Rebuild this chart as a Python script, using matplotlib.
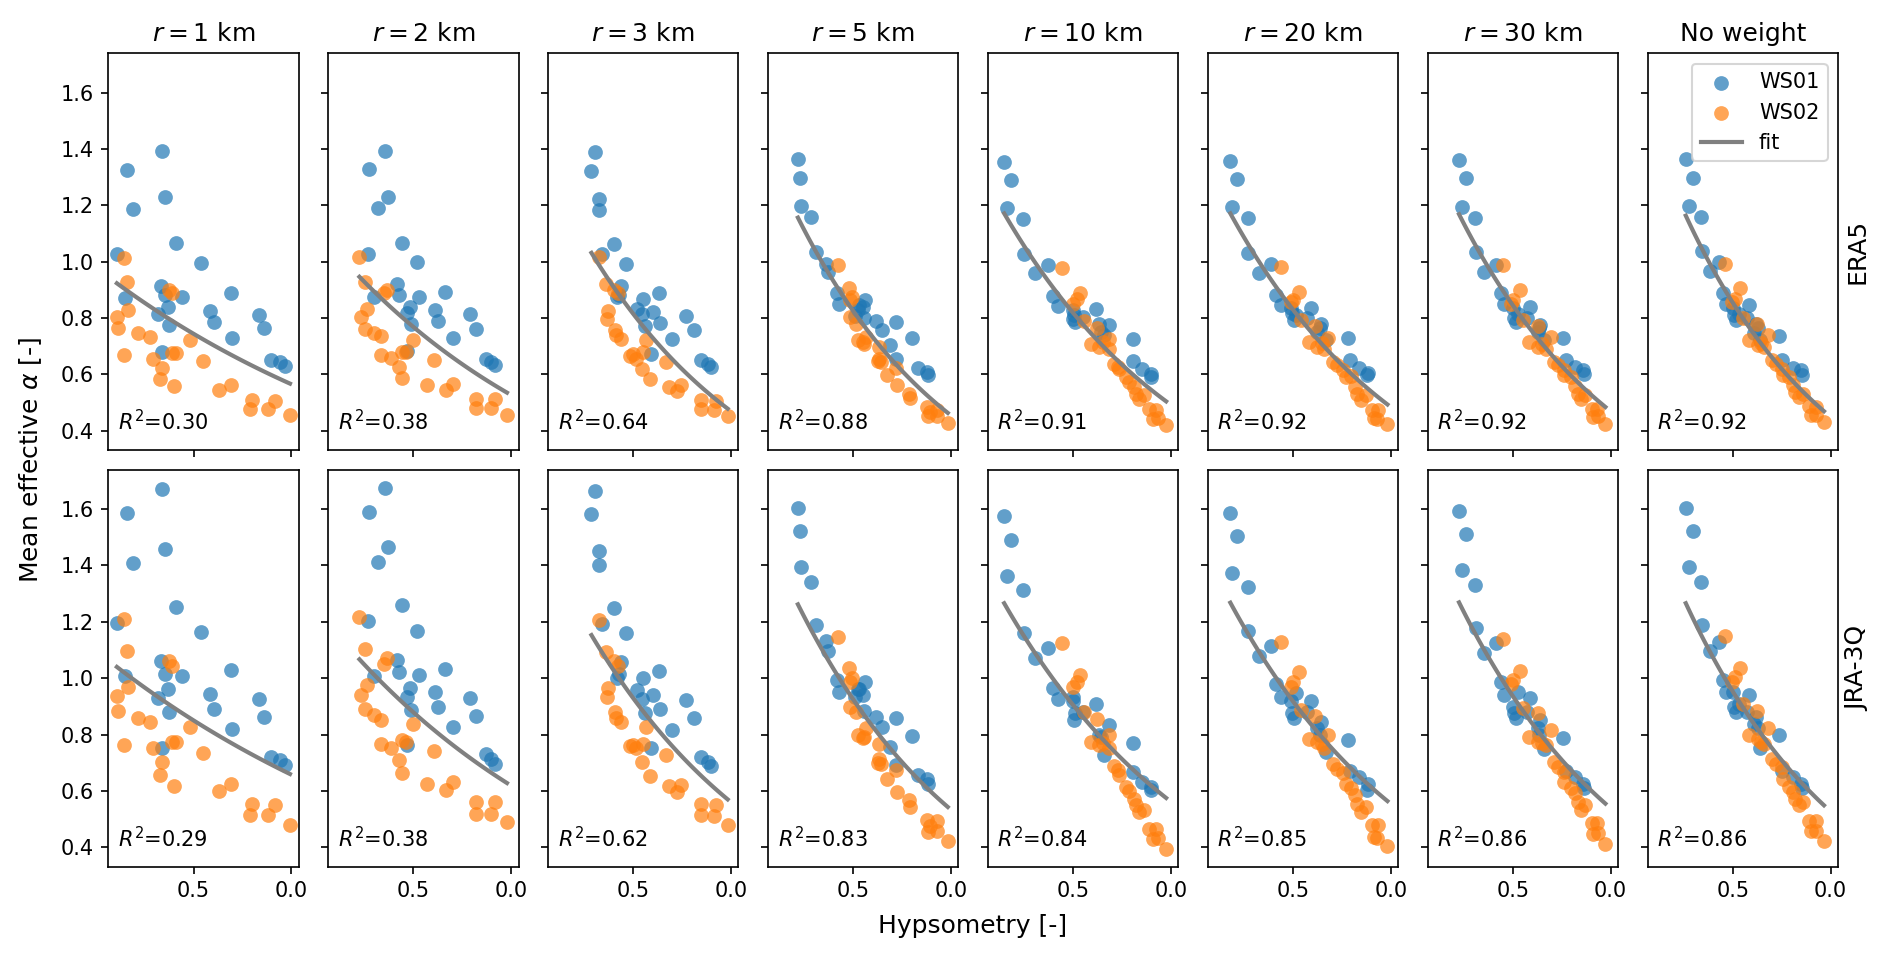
import numpy as np
import matplotlib
matplotlib.use('Agg')
import matplotlib.pyplot as plt

# panel titles and R^2 labels
titles = ['$r=1$ km', '$r=2$ km', '$r=3$ km', '$r=5$ km', '$r=10$ km',
          '$r=20$ km', '$r=30$ km', 'No weight']
r2_era5 = [0.30, 0.38, 0.64, 0.88, 0.91, 0.92, 0.92, 0.92]
r2_jra3q = [0.29, 0.38, 0.62, 0.83, 0.84, 0.85, 0.86, 0.86]
rows = ['ERA5', 'JRA-3Q']

# fitted alpha at the highest / lowest hypsometry of each panel
fit_era5_hi = [0.923, 0.946, 1.031, 1.156, 1.171, 1.171, 1.168, 1.163]
fit_era5_lo = [0.567, 0.535, 0.478, 0.463, 0.504, 0.493, 0.484, 0.469]
fit_jra3q_hi = [1.040, 1.067, 1.153, 1.262, 1.266, 1.268, 1.269, 1.266]
fit_jra3q_lo = [0.660, 0.628, 0.570, 0.543, 0.575, 0.564, 0.555, 0.549]

# hypsometry of WS01 stations, one list per weighting radius
hyps_ws01 = [
    [0.893, 0.840, 0.811, 0.662, 0.647, 0.592, 0.851, 0.666, 0.645, 0.681, 0.630, 0.628,
     0.559, 0.464, 0.416, 0.393, 0.307, 0.305, 0.166, 0.141, 0.101, 0.059, 0.034, 0.662],
    [0.734, 0.727, 0.683, 0.647, 0.630, 0.557, 0.704, 0.583, 0.574, 0.531, 0.519, 0.514,
     0.474, 0.484, 0.391, 0.375, 0.337, 0.298, 0.208, 0.182, 0.130, 0.104, 0.081, 0.531],
    [0.660, 0.715, 0.674, 0.698, 0.677, 0.601, 0.582, 0.564, 0.575, 0.457, 0.483, 0.439,
     0.451, 0.538, 0.401, 0.366, 0.370, 0.304, 0.231, 0.188, 0.153, 0.118, 0.101, 0.408],
    [0.784, 0.771, 0.767, 0.719, 0.690, 0.641, 0.629, 0.586, 0.576, 0.490, 0.478, 0.470,
     0.452, 0.440, 0.447, 0.383, 0.353, 0.283, 0.310, 0.197, 0.279, 0.167, 0.121, 0.116],
    [0.854, 0.817, 0.842, 0.757, 0.752, 0.697, 0.627, 0.606, 0.580, 0.503, 0.500, 0.490,
     0.495, 0.452, 0.384, 0.366, 0.358, 0.341, 0.318, 0.192, 0.192, 0.147, 0.101, 0.104],
    [0.822, 0.788, 0.811, 0.730, 0.730, 0.676, 0.612, 0.586, 0.564, 0.504, 0.494, 0.509,
     0.483, 0.408, 0.358, 0.376, 0.365, 0.221, 0.208, 0.161, 0.118, 0.122, 0.330, 0.430],
    [0.777, 0.742, 0.763, 0.693, 0.689, 0.647, 0.588, 0.563, 0.546, 0.496, 0.483, 0.500,
     0.475, 0.412, 0.363, 0.374, 0.365, 0.244, 0.231, 0.185, 0.143, 0.139, 0.340, 0.430],
    [0.742, 0.706, 0.727, 0.662, 0.658, 0.620, 0.574, 0.553, 0.538, 0.496, 0.483, 0.500,
     0.470, 0.416, 0.384, 0.395, 0.370, 0.263, 0.248, 0.195, 0.153, 0.149, 0.360, 0.430],
]
alpha_era5_ws01 = [
    [1.026, 1.326, 1.186, 1.394, 1.228, 1.065, 0.872, 0.914, 0.881, 0.813, 0.840, 0.774,
     0.874, 0.995, 0.824, 0.785, 0.889, 0.729, 0.812, 0.763, 0.652, 0.644, 0.630, 0.679],
    [1.027, 1.327, 1.189, 1.393, 1.228, 1.067, 0.873, 0.919, 0.883, 0.816, 0.839, 0.777,
     0.875, 0.997, 0.828, 0.788, 0.893, 0.730, 0.813, 0.762, 0.653, 0.644, 0.632, 0.682],
    [1.027, 1.323, 1.183, 1.388, 1.222, 1.061, 0.873, 0.914, 0.881, 0.813, 0.833, 0.771,
     0.869, 0.991, 0.822, 0.782, 0.887, 0.727, 0.807, 0.759, 0.650, 0.638, 0.626, 0.673],
    [1.363, 1.298, 1.197, 1.157, 1.035, 0.993, 0.964, 0.887, 0.851, 0.807, 0.827, 0.845,
     0.839, 0.863, 0.800, 0.788, 0.756, 0.786, 0.703, 0.730, 0.653, 0.624, 0.608, 0.599],
    [1.355, 1.290, 1.189, 1.151, 1.027, 0.958, 0.987, 0.878, 0.843, 0.827, 0.798, 0.786,
     0.810, 0.804, 0.831, 0.780, 0.750, 0.739, 0.774, 0.727, 0.646, 0.620, 0.602, 0.590],
    [1.358, 1.292, 1.192, 1.153, 1.029, 0.960, 0.993, 0.883, 0.845, 0.816, 0.792, 0.834,
     0.810, 0.836, 0.777, 0.750, 0.765, 0.729, 0.650, 0.622, 0.606, 0.597, 0.720, 0.800],
    [1.361, 1.295, 1.195, 1.156, 1.035, 0.964, 0.987, 0.887, 0.848, 0.800, 0.786, 0.835,
     0.815, 0.839, 0.774, 0.750, 0.765, 0.730, 0.650, 0.626, 0.614, 0.602, 0.720, 0.800],
    [1.364, 1.298, 1.198, 1.159, 1.037, 0.966, 0.999, 0.890, 0.851, 0.810, 0.792, 0.835,
     0.815, 0.845, 0.777, 0.748, 0.765, 0.735, 0.650, 0.622, 0.614, 0.596, 0.720, 0.800],
]
alpha_jra3q_ws01 = [
    [1.196, 1.586, 1.408, 1.671, 1.458, 1.252, 1.007, 1.060, 1.016, 0.929, 0.961, 0.880,
     1.007, 1.163, 0.945, 0.891, 1.028, 0.820, 0.926, 0.861, 0.722, 0.710, 0.692, 0.754],
    [1.203, 1.589, 1.412, 1.675, 1.464, 1.258, 1.008, 1.064, 1.023, 0.934, 0.966, 0.887,
     1.013, 1.169, 0.952, 0.899, 1.032, 0.827, 0.931, 0.867, 0.730, 0.715, 0.697, 0.762],
    [1.192, 1.582, 1.402, 1.665, 1.453, 1.248, 1.000, 1.056, 1.015, 0.926, 0.958, 0.875,
     1.002, 1.159, 0.942, 0.889, 1.025, 0.816, 0.922, 0.857, 0.721, 0.703, 0.689, 0.753],
    [1.604, 1.521, 1.393, 1.341, 1.189, 1.132, 1.096, 0.993, 0.952, 0.935, 0.960, 0.962,
     0.940, 0.985, 0.883, 0.863, 0.827, 0.860, 0.756, 0.796, 0.691, 0.658, 0.644, 0.626],
    [1.576, 1.491, 1.364, 1.313, 1.159, 1.070, 1.106, 0.966, 0.925, 0.934, 0.919, 0.875,
     0.851, 0.880, 0.910, 0.800, 0.790, 0.729, 0.833, 0.771, 0.667, 0.632, 0.614, 0.602],
    [1.588, 1.503, 1.375, 1.323, 1.168, 1.080, 1.115, 0.978, 0.934, 0.875, 0.857, 0.919,
     0.946, 0.919, 0.845, 0.822, 0.800, 0.780, 0.670, 0.650, 0.626, 0.602, 0.739, 0.880],
    [1.594, 1.511, 1.384, 1.331, 1.177, 1.088, 1.124, 0.985, 0.940, 0.875, 0.860, 0.899,
     0.952, 0.928, 0.851, 0.822, 0.800, 0.788, 0.670, 0.650, 0.626, 0.612, 0.750, 0.880],
    [1.604, 1.521, 1.393, 1.343, 1.189, 1.098, 1.130, 0.993, 0.952, 0.899, 0.881, 0.952,
     0.910, 0.940, 0.863, 0.839, 0.822, 0.798, 0.670, 0.650, 0.626, 0.612, 0.753, 0.880],
]

# hypsometry of WS02 stations
hyps_ws02 = [
    [0.855, 0.840, 0.893, 0.836, 0.889, 0.855, 0.786, 0.723, 0.710, 0.662, 0.670, 0.601, 0.625,
     0.612, 0.610, 0.590, 0.519, 0.450, 0.372, 0.307, 0.210, 0.200, 0.118, 0.084, 0.006],
    [0.777, 0.747, 0.770, 0.739, 0.747, 0.664, 0.704, 0.664, 0.614, 0.574, 0.561, 0.433, 0.635,
     0.649, 0.557, 0.536, 0.500, 0.396, 0.332, 0.298, 0.182, 0.182, 0.104, 0.081, 0.021],
    [0.677, 0.642, 0.635, 0.630, 0.595, 0.517, 0.590, 0.564, 0.486, 0.457, 0.417, 0.318, 0.599,
     0.578, 0.500, 0.450, 0.434, 0.332, 0.278, 0.257, 0.156, 0.156, 0.087, 0.078, 0.017],
    [0.581, 0.524, 0.507, 0.517, 0.517, 0.486, 0.478, 0.452, 0.434, 0.443, 0.366, 0.366, 0.357,
     0.374, 0.328, 0.279, 0.276, 0.216, 0.210, 0.124, 0.119, 0.072, 0.069, 0.107, 0.016],
    [0.560, 0.466, 0.481, 0.500, 0.447, 0.380, 0.409, 0.366, 0.315, 0.318, 0.349, 0.289, 0.272,
     0.264, 0.229, 0.212, 0.187, 0.178, 0.164, 0.135, 0.110, 0.075, 0.092, 0.067, 0.024],
    [0.564, 0.472, 0.500, 0.509, 0.461, 0.386, 0.418, 0.376, 0.322, 0.343, 0.354, 0.294, 0.273,
     0.247, 0.230, 0.204, 0.182, 0.172, 0.150, 0.129, 0.097, 0.064, 0.086, 0.071, 0.017],
    [0.553, 0.464, 0.500, 0.511, 0.447, 0.374, 0.420, 0.374, 0.307, 0.332, 0.350, 0.290, 0.269,
     0.237, 0.237, 0.205, 0.185, 0.168, 0.153, 0.132, 0.097, 0.069, 0.090, 0.063, 0.027],
    [0.542, 0.462, 0.489, 0.504, 0.447, 0.378, 0.416, 0.374, 0.321, 0.342, 0.355, 0.300, 0.279,
     0.248, 0.244, 0.215, 0.195, 0.181, 0.164, 0.143, 0.111, 0.076, 0.101, 0.074, 0.034],
]
alpha_era5_ws02 = [
    [1.014, 0.926, 0.804, 0.828, 0.763, 0.668, 0.745, 0.733, 0.656, 0.623, 0.585, 0.557, 0.899,
     0.889, 0.676, 0.676, 0.723, 0.647, 0.545, 0.561, 0.478, 0.510, 0.478, 0.507, 0.454],
    [1.016, 0.928, 0.804, 0.830, 0.762, 0.670, 0.748, 0.735, 0.659, 0.626, 0.588, 0.561, 0.900,
     0.890, 0.680, 0.678, 0.723, 0.650, 0.543, 0.564, 0.480, 0.513, 0.480, 0.511, 0.457],
    [1.015, 0.922, 0.798, 0.825, 0.756, 0.665, 0.740, 0.727, 0.656, 0.620, 0.585, 0.555, 0.900,
     0.890, 0.672, 0.680, 0.721, 0.644, 0.541, 0.561, 0.478, 0.508, 0.472, 0.504, 0.451],
    [0.987, 0.905, 0.875, 0.863, 0.804, 0.777, 0.721, 0.715, 0.733, 0.709, 0.697, 0.656, 0.644,
     0.646, 0.596, 0.622, 0.561, 0.531, 0.516, 0.484, 0.452, 0.472, 0.452, 0.466, 0.428],
    [0.978, 0.890, 0.869, 0.851, 0.788, 0.765, 0.709, 0.697, 0.727, 0.691, 0.715, 0.638, 0.626,
     0.620, 0.590, 0.572, 0.555, 0.531, 0.513, 0.525, 0.476, 0.472, 0.442, 0.445, 0.419],
    [0.982, 0.893, 0.863, 0.855, 0.792, 0.772, 0.713, 0.697, 0.729, 0.691, 0.710, 0.644, 0.632,
     0.614, 0.590, 0.595, 0.555, 0.531, 0.508, 0.525, 0.472, 0.472, 0.445, 0.442, 0.422],
    [0.987, 0.899, 0.863, 0.851, 0.792, 0.771, 0.715, 0.697, 0.733, 0.691, 0.708, 0.644, 0.632,
     0.614, 0.596, 0.590, 0.558, 0.531, 0.513, 0.527, 0.478, 0.478, 0.448, 0.452, 0.425],
    [0.990, 0.907, 0.869, 0.857, 0.800, 0.777, 0.721, 0.703, 0.741, 0.697, 0.712, 0.650, 0.638,
     0.620, 0.596, 0.590, 0.563, 0.537, 0.519, 0.530, 0.487, 0.484, 0.454, 0.457, 0.431],
]
alpha_jra3q_ws02 = [
    [1.211, 1.096, 0.938, 0.969, 0.882, 0.762, 0.858, 0.846, 0.753, 0.704, 0.657, 0.617, 1.062,
     1.044, 0.775, 0.775, 0.828, 0.736, 0.601, 0.625, 0.513, 0.554, 0.513, 0.550, 0.478],
    [1.218, 1.102, 0.942, 0.976, 0.890, 0.768, 0.869, 0.851, 0.754, 0.709, 0.662, 0.626, 1.070,
     1.050, 0.780, 0.775, 0.837, 0.741, 0.605, 0.632, 0.519, 0.561, 0.519, 0.559, 0.490],
    [1.207, 1.094, 0.934, 0.964, 0.881, 0.760, 0.857, 0.843, 0.753, 0.701, 0.653, 0.618, 1.060,
     1.045, 0.762, 0.765, 0.827, 0.729, 0.596, 0.622, 0.513, 0.553, 0.511, 0.549, 0.478],
    [1.147, 1.035, 0.999, 0.987, 0.899, 0.881, 0.800, 0.788, 0.822, 0.790, 0.768, 0.715, 0.697,
     0.700, 0.641, 0.673, 0.596, 0.567, 0.543, 0.496, 0.454, 0.492, 0.457, 0.475, 0.421],
    [1.124, 1.011, 0.987, 0.970, 0.881, 0.855, 0.774, 0.762, 0.798, 0.752, 0.770, 0.689, 0.673,
     0.656, 0.614, 0.600, 0.573, 0.549, 0.525, 0.531, 0.466, 0.466, 0.431, 0.433, 0.395],
    [1.130, 1.021, 0.987, 0.970, 0.887, 0.867, 0.786, 0.772, 0.800, 0.753, 0.765, 0.697, 0.679,
     0.662, 0.626, 0.610, 0.585, 0.555, 0.525, 0.543, 0.478, 0.478, 0.437, 0.433, 0.405],
    [1.139, 1.025, 0.993, 0.978, 0.895, 0.875, 0.792, 0.774, 0.816, 0.762, 0.770, 0.703, 0.685,
     0.667, 0.632, 0.610, 0.591, 0.561, 0.531, 0.549, 0.487, 0.487, 0.448, 0.452, 0.413],
    [1.151, 1.037, 1.005, 0.987, 0.907, 0.883, 0.798, 0.786, 0.822, 0.768, 0.775, 0.715, 0.697,
     0.685, 0.644, 0.615, 0.596, 0.570, 0.549, 0.559, 0.493, 0.493, 0.457, 0.457, 0.421],
]

alpha_ws01 = [alpha_era5_ws01, alpha_jra3q_ws01]
alpha_ws02 = [alpha_era5_ws02, alpha_jra3q_ws02]
fit_hi = [fit_era5_hi, fit_jra3q_hi]
fit_lo = [fit_era5_lo, fit_jra3q_lo]
r2 = [r2_era5, r2_jra3q]

fig, axes = plt.subplots(2, 8, figsize=(1892 / 150, 961 / 150), dpi=150,
                         sharex=True, sharey=True)
fig.subplots_adjust(left=0.0572, right=0.9715, top=0.9445, bottom=0.0981,
                    wspace=0.155, hspace=0.05)

for i in range(2):
    for j in range(8):
        ax = axes[i, j]
        x1 = np.array(hyps_ws01[j])
        y1 = np.array(alpha_ws01[i][j])
        x2 = np.array(hyps_ws02[j])
        y2 = np.array(alpha_ws02[i][j])
        ax.scatter(x1, y1, s=50, alpha=0.7, linewidths=0, label='WS01')
        ax.scatter(x2, y2, s=50, alpha=0.7, linewidths=0, label='WS02')

        # exponential fit curve alpha = a*exp(b*H) spanning the data range
        xx = np.concatenate([x1, x2])
        h0, h1 = xx.min(), xx.max()
        b = np.log(fit_hi[i][j] / fit_lo[i][j]) / (h1 - h0)
        a = fit_lo[i][j] * np.exp(-b * h0)
        xf = np.linspace(h0, h1, 100)
        ax.plot(xf, a * np.exp(b * xf), color='gray', lw=2, label='fit')

        ax.text(0.05, 0.05, '$R^2$=%.2f' % r2[i][j], transform=ax.transAxes,
                fontsize=10)
        if i == 0:
            ax.set_title(titles[j], fontsize=12)
        if j == 7:
            ax.text(1.1, 0.5, rows[i], transform=ax.transAxes, rotation=90,
                    va='center', ha='center', fontsize=12)

axes[0, 0].invert_xaxis()
axes[0, 0].set_xticks([0.5, 0.0])
axes[0, 0].set_yticks([0.4, 0.6, 0.8, 1.0, 1.2, 1.4, 1.6])
axes[0, 7].legend(loc='upper right')

fig.text(0.514, 0.036, 'Hypsometry [-]', ha='center', va='center', fontsize=12)
fig.text(0.0162, 0.521, 'Mean effective $\\alpha$ [-]', rotation=90,
         ha='center', va='center', fontsize=12)

plt.savefig('out.png', dpi=150)
